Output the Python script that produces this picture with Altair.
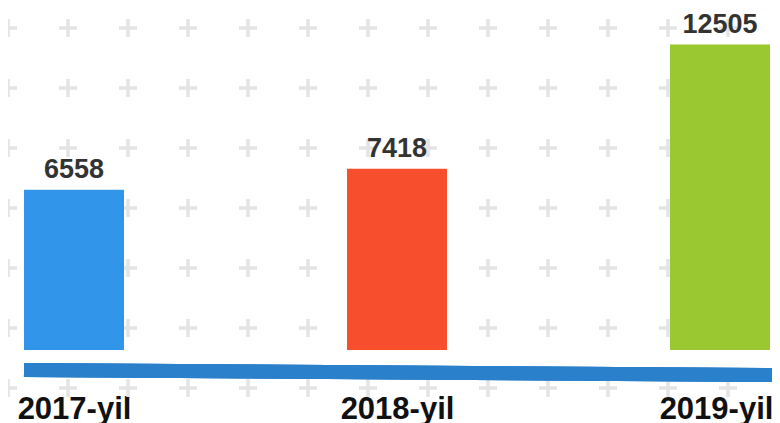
import json
import altair as alt
import pandas as pd

# ---- data ----
years = ["2017-yil", "2018-yil", "2019-yil"]
values = [6558, 7418, 12505]
bar_colors = ["#3196EA", "#F74F2D", "#9AC830"]

# background "+" pattern (grid indices)
pattern_cols = list(range(14))
pattern_rows = list(range(7))

W, H = 764, 342
STEP = 60  # pattern spacing (px)

bars_df = pd.DataFrame({"year": years, "value": values, "idx": list(range(len(years)))})
pat_df = pd.DataFrame(
    [{"px": c * STEP, "py": 20 + r * STEP} for c in pattern_cols for r in pattern_rows]
)

font = "Liberation Sans"
x_dom = [-66 / 323, (W - 66) / 323]

x_bar = alt.X(
    "idx:Q",
    scale=alt.Scale(domain=x_dom, nice=False, zero=False, padding=0),
    axis=alt.Axis(
        values=list(range(len(years))),
        labelExpr=json.dumps(years) + "[datum.value]",
        domain=False, ticks=False, tickSize=0, grid=False, title=None,
        labelFontSize=31, labelFont=font, labelFontWeight="bold", labelColor="#111111",
        labelBaseline="alphabetic", labelPadding=68, labelFlush=False, labelOverlap=False,
        labelOffset={"condition": {"test": f"datum.value == {len(years) - 1}", "value": -4}, "value": 0},
    ),
)
y_bar = alt.Y("value:Q", scale=alt.Scale(domain=[0, 14000], nice=False, padding=0), axis=None)

pluses = alt.Chart(pat_df).mark_point(
    shape="M-1,0L1,0M0,-1L0,1", filled=False, size=324, strokeWidth=3.5,
    color="#E4E4E4", opacity=1,
).encode(
    x=alt.X("px:Q", scale=alt.Scale(domain=[0, W], nice=False, zero=False, padding=0), axis=None),
    y=alt.Y("py:Q", scale=alt.Scale(domain=[0, H], nice=False, zero=False, reverse=True, padding=0), axis=None),
)

band = alt.Chart(bars_df).mark_rule(strokeWidth=14, color="#2B80CB", strokeCap="butt").encode(
    x=alt.value(16), x2=alt.value(764), y=alt.value(362), y2=alt.value(367)
)

bars = alt.Chart(bars_df).mark_bar(size=100).encode(
    x=x_bar,
    y=y_bar,
    color=alt.Color("year:N", scale=alt.Scale(domain=years, range=bar_colors), legend=None),
)

labels = alt.Chart(bars_df).mark_text(
    dy=-12, baseline="alphabetic", fontSize=27, fontWeight="bold", font=font, color="#333333"
).encode(
    x=alt.X("idx:Q", scale=alt.Scale(domain=x_dom, nice=False, zero=False, padding=0), axis=None),
    y=y_bar,
    text="value:Q",
)

chart = (
    alt.layer(pluses, band, bars, labels)
    .resolve_scale(x="independent", y="independent")
    .properties(
        width=W, height=H,
        autosize=alt.AutoSizeParams(type="none"),
        padding={"left": 0, "top": 0, "right": 0, "bottom": 76},
        background="white",
    )
    .configure_view(stroke=None)
)

chart.save("out.html", embed_options={"renderer": "svg", "actions": False})
